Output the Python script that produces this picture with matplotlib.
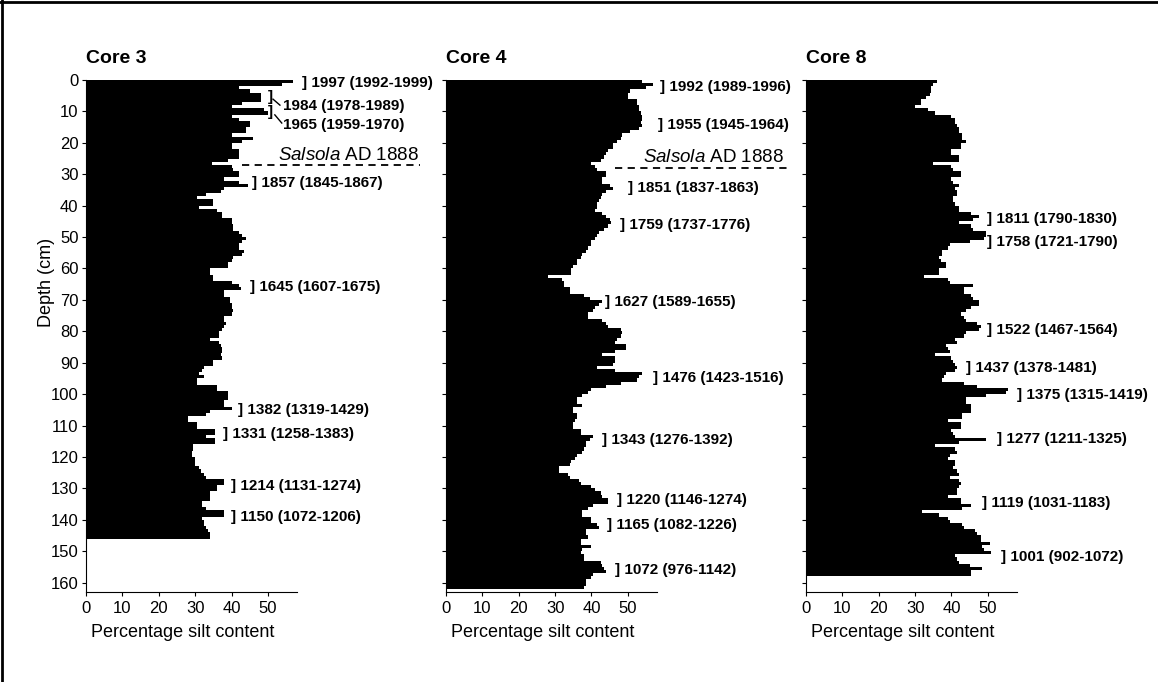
# Silt content profiles for three cores
import numpy as np
import matplotlib
matplotlib.use('Agg')
import matplotlib.pyplot as plt
from matplotlib.lines import Line2D

plt.rcParams['font.family'] = ['Liberation Sans', 'DejaVu Sans']
plt.rcParams['mathtext.fontset'] = 'custom'
plt.rcParams['mathtext.it'] = 'Liberation Sans:italic'
plt.rcParams['mathtext.rm'] = 'Liberation Sans'

# percentage silt content, one value per 1 cm slice from the top
core3 = [57, 54, 42, 45, 48, 48, 48, 43, 40, 49,
         50, 40, 42, 45, 45, 44, 44, 40, 46, 43,
         40, 40, 42, 42, 42, 39, 34.5, 40, 40.5, 42,
         42, 38, 42, 44.5, 38, 37, 33, 30.5, 35, 35,
         31, 36, 37.5, 37.5, 40, 40, 40.5, 40.5, 42, 43,
         44, 43, 42, 42, 43.5, 43, 40.5, 40, 39, 39,
         34, 34, 35, 35, 40, 42, 42.5, 38, 38, 39.5,
         39.5, 40, 40, 40.5, 40, 38, 38, 38.5, 38, 37.5,
         36.5, 36.5, 34, 36.5, 37, 37.5, 37.5, 37, 37.5, 35,
         35, 32.5, 32, 31, 32.5, 30.5, 30.5, 36, 36, 39,
         39, 39, 38, 38, 40, 34, 33, 28, 28, 30.5,
         30.5, 35.5, 35.5, 33, 35.5, 35.5, 29.5, 29.5, 29, 29,
         30, 30, 30, 31, 31.5, 32.5, 33, 38, 38, 36,
         36, 34, 34, 34, 32, 32, 33, 38, 38, 32,
         32.5, 32.5, 33, 33.5, 34, 34]

core4 = [54, 57, 55, 50.5, 50, 50, 52.5, 52.5, 53, 53,
         53.5, 54, 54, 53.5, 54, 53, 50.5, 48.5, 48, 47,
         46, 46, 44.5, 44, 43.5, 42.5, 40, 41, 41.5, 44,
         44, 43, 43, 45, 46, 44, 43, 42.5, 42, 41.5,
         41.5, 41, 43, 44, 45, 45.5, 44.5, 43.5, 42, 41.5,
         41, 40, 40, 39, 38.5, 37.5, 37, 36, 36, 35,
         34.5, 34.5, 28, 32, 32.5, 32.5, 34, 34, 38, 39.5,
         43, 42, 41, 40.5, 39, 39, 43, 44, 44.5, 48,
         48.5, 48, 47, 46.5, 49.5, 49.5, 46.5, 43, 46.5, 46.5,
         46, 41.5, 46.5, 54, 53, 52.5, 48, 44, 40, 39,
         37.5, 36, 36, 37.5, 35, 35, 36, 36, 35.5, 35,
         35, 37, 37, 40.5, 39.5, 38.5, 38.5, 38, 37.5, 36,
         35.5, 34.5, 34, 31, 31, 33.5, 34, 36.5, 37, 40,
         41, 42.5, 43, 44.5, 44.5, 40.5, 39, 37.5, 37.5, 40,
         40, 41.5, 42, 38.5, 38.5, 39, 37, 37, 40, 37.5,
         37, 38, 38, 42.5, 43, 43.5, 44, 40.5, 40, 38.5,
         38.5, 38]

core8 = [36, 35, 34.5, 34.5, 34, 33, 31.5, 31.5, 30, 33.5,
         35.5, 40, 41, 41, 41.5, 42, 42, 43, 43, 44,
         42.5, 42.5, 40, 40, 42, 42, 35, 40, 40.5, 42.5,
         42.5, 40, 40.5, 42, 41, 41.5, 41.5, 40.5, 40.5, 41,
         42, 42, 45.5, 47.5, 46, 42, 45.5, 46, 49.5, 49.5,
         49, 45, 39.5, 39, 37.5, 37.5, 36.5, 37, 38.5, 38.5,
         36.5, 36.5, 32.5, 39, 39.5, 46, 43.5, 43.5, 45.5, 46,
         47.5, 47.5, 45.5, 44, 42.5, 43.5, 44, 47, 48, 47.5,
         44, 43.5, 41, 41.5, 38.5, 39, 39.5, 35.5, 40, 40.5,
         41, 41.5, 41, 38.5, 38, 37.5, 43.5, 47, 55.5, 55,
         49.5, 44, 44, 45.5, 45.5, 45.5, 43, 43, 39, 42.5,
         42.5, 40, 40.5, 41, 49.5, 42, 35.5, 41, 41.5, 39.5,
         39, 41, 41, 40.5, 41.5, 42, 39.5, 42, 42.5, 42,
         41.5, 41.5, 39, 42.5, 42.5, 45.5, 43, 32, 36.5, 39,
         39.5, 43, 43.5, 46.5, 47, 48, 48, 50.5, 48.5, 49,
         51, 41, 41.5, 42, 45, 48.5, 45.5, 45.5]

# dated horizons: label, depth (cm)
core3_dates = ['1997 (1992-1999)', '1984 (1978-1989)', '1965 (1959-1970)',
               '1857 (1845-1867)', '1645 (1607-1675)', '1382 (1319-1429)',
               '1331 (1258-1383)', '1214 (1131-1274)', '1150 (1072-1206)']
core3_date_depth = [1, 5.4, 10.2, 32.7, 66, 105, 112.7, 129.2, 139]
core3_date_x = [59.3, 50, 50, 45.6, 45.1, 41.8, 37.6, 39.8, 39.8]

core4_dates = ['1992 (1989-1996)', '1955 (1945-1964)', '1851 (1837-1863)',
               '1759 (1737-1776)', '1627 (1589-1655)', '1476 (1423-1516)',
               '1343 (1276-1392)', '1220 (1146-1274)', '1165 (1082-1226)',
               '1072 (976-1142)']
core4_date_depth = [2.1, 14.3, 34.4, 46.2, 70.7, 95, 114.6, 133.8, 141.7, 156]
core4_date_x = [58.8, 58.2, 50, 47.8, 43.7, 56.9, 42.9, 47, 44.2, 46.4]

core8_dates = ['1811 (1790-1830)', '1758 (1721-1790)', '1522 (1467-1564)',
               '1437 (1378-1481)', '1375 (1315-1419)', '1277 (1211-1325)',
               '1119 (1031-1183)', '1001 (902-1072)']
core8_date_depth = [44.3, 51.6, 79.6, 91.7, 100.3, 114.3, 134.7, 151.9]
core8_date_x = [49.7, 49.7, 49.7, 44, 57.9, 52.5, 48.4, 53.6]

salsola_depth = [27, 28]

fig = plt.figure(figsize=(11.58, 6.82), dpi=100)
fig.patch.set_facecolor('white')

lefts = [0.0743, 0.3851, 0.696]
names = ['Core 3', 'Core 4', 'Core 8']
cores = [core3, core4, core8]
dates = [core3_dates, core4_dates, core8_dates]
ddepth = [core3_date_depth, core4_date_depth, core8_date_depth]
dx = [core3_date_x, core4_date_x, core8_date_x]

axes = []
for i in range(3):
    ax = fig.add_axes([lefts[i], 0.132, 0.1822, 0.7507])
    vals = np.array(cores[i], dtype=float)
    depth = np.arange(len(vals) + 1)
    ax.fill_betweenx(depth, 0, np.append(vals, vals[-1]), step='post',
                     color='black', lw=0)
    ax.set_xlim(0, 58)
    ax.set_ylim(163, 0)
    ax.set_xticks(np.arange(0, 51, 10))
    ax.set_yticks(np.arange(0, 161, 10))
    ax.tick_params(direction='out', length=3, width=0.8, labelsize=12)
    ax.tick_params(axis='y', pad=2.5)
    for s in ['top', 'right']:
        ax.spines[s].set_visible(False)
    ax.spines['left'].set_linewidth(0.8)
    ax.spines['bottom'].set_linewidth(0.8)
    if i > 0:
        ax.set_yticklabels([])
    ax.set_xlabel('Percentage silt content', fontsize=13, labelpad=6)
    ax.xaxis.label.set_x(0.46)
    ax.text(0.0, 1.025, names[i], transform=ax.transAxes, fontsize=14,
            fontweight='bold', ha='left', va='bottom')

    for j, lab in enumerate(dates[i]):
        if i == 0 and j in (1, 2):
            continue
        ax.text(dx[i][j], ddepth[i][j], '] ' + lab, fontsize=11,
                fontweight='bold', ha='left', va='center', clip_on=False)
    axes.append(ax)

ax3 = axes[0]
ax3.set_ylabel('Depth (cm)', fontsize=13)
ax3.yaxis.set_label_coords(-0.145, 0.605)

# bracket with leader lines for the two crowded dates in core 3
for j, (tx, td, l0, l1) in zip([1, 2], [(54.1, 8.3, (51.4, 6.1), (53.3, 8.0)),
                                          (54.1, 14.3, (51.9, 11.1), (53.8, 13.7))]):
    ax3.text(core3_date_x[j], core3_date_depth[j], ']', fontsize=11,
             fontweight='bold', ha='left', va='center', clip_on=False)
    ax3.plot([l0[0], l1[0]], [l0[1], l1[1]], color='black', lw=1, clip_on=False)
    ax3.text(tx, td, core3_dates[j], fontsize=11, fontweight='bold',
             ha='left', va='center', clip_on=False)

# Salsola marker
ax3.plot([43, 91.8], [salsola_depth[0]] * 2, ls=(0, (4, 3)), color='black',
         lw=1.3, clip_on=False)
ax3.text(52.7, salsola_depth[0] - 1.5, r'$\it{Salsola}$ AD 1888', fontsize=13.5,
         ha='left', va='baseline', clip_on=False)
axes[1].plot([46.4, 94.5], [salsola_depth[1]] * 2, ls=(0, (4, 3)), color='black',
             lw=1.3, clip_on=False)
axes[1].text(54.1, salsola_depth[1] - 1.9, r'$\it{Salsola}$ AD 1888', fontsize=13.5,
             ha='left', va='baseline', clip_on=False)

# page edge of the scan
fig.add_artist(Line2D([0, 1], [0.997, 0.997], transform=fig.transFigure,
                      color='black', lw=2))
fig.add_artist(Line2D([0.002, 0.002], [0, 1], transform=fig.transFigure,
                      color='black', lw=2))

fig.savefig('out.png', dpi=100)
